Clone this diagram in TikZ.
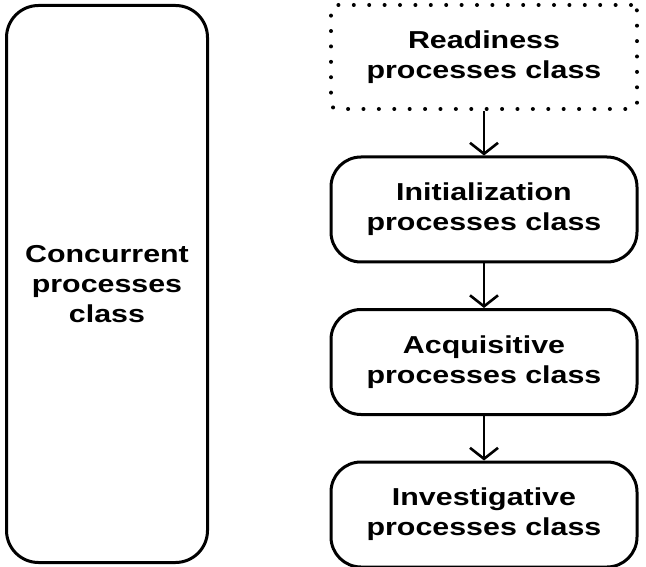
\documentclass[tikz,border=0pt]{standalone}
\usepackage{fontspec}
\setmainfont{Liberation Sans}[FakeStretch=1.24]
\usetikzlibrary{arrows.meta,positioning}
\tikzset{
  cls/.style={draw,line width=3pt,rounded corners=30pt,minimum width=306pt,minimum height=105pt,align=center,font=\fontsize{24.5}{30}\selectfont\bfseries,inner sep=0pt},
  ready/.style={cls,dash pattern=on 0pt off 15.4pt,line cap=round,line width=4pt,rounded corners=6pt,minimum height=104pt},
  arr/.style={-{Straight Barb[length=11pt,width=28pt]},line width=2.6pt},
}
\begin{document}
\begin{tikzpicture}[node distance=44.5pt]
  \useasboundingbox (0,0) rectangle (646pt,-567pt);
  \node[cls,minimum width=201pt,minimum height=557pt,rounded corners=32pt] (conc) at (107pt,-284pt) {Concurrent\\ processes\\ class};
  \node[ready] (rd) at (484pt,-57pt) {Readiness\\ processes class};
  \node[cls,below=of rd] (ini) {Initialization\\ processes class};
  \node[cls,below=of ini] (acq) {Acquisitive\\ processes class};
  \node[cls,below=of acq] (inv) {Investigative\\ processes class};
  \draw[arr] (rd) -- (ini); \draw[arr] (ini) -- (acq); \draw[arr] (acq) -- (inv);
\end{tikzpicture}
\end{document}
